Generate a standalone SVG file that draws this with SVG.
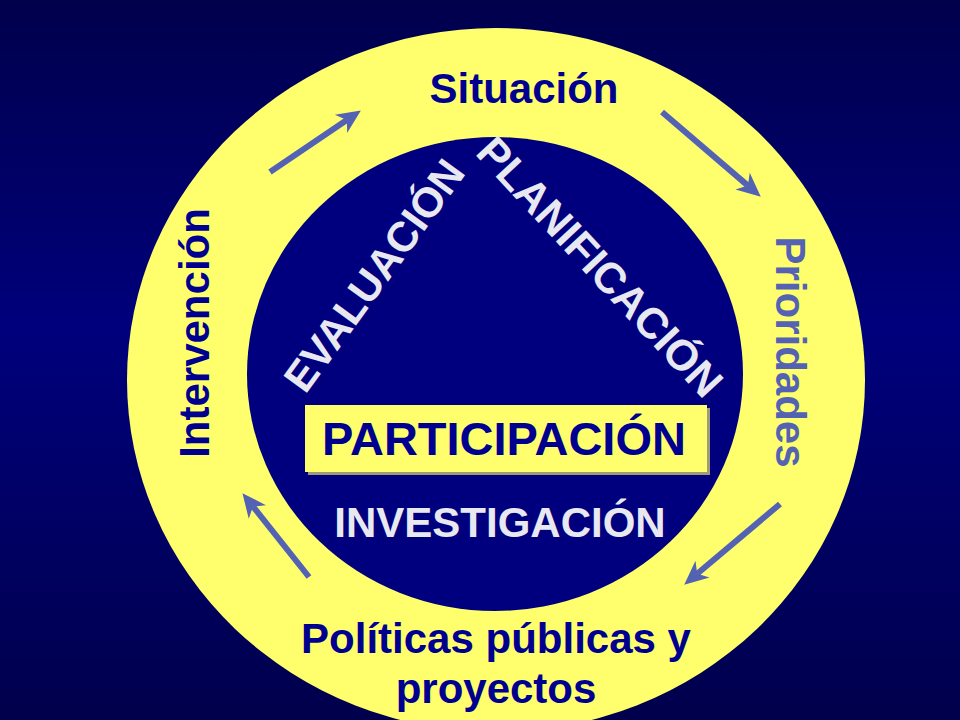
<svg xmlns="http://www.w3.org/2000/svg" width="960" height="720" viewBox="0 0 960 720">
  <defs>
    <linearGradient id="bg" x1="0" y1="0" x2="0" y2="1">
      <stop offset="0" stop-color="#00004c"/>
      <stop offset="0.46" stop-color="#00007c"/>
      <stop offset="1" stop-color="#00004c"/>
    </linearGradient>
    <marker id="head" markerUnits="userSpaceOnUse" markerWidth="30" markerHeight="30" refX="7" refY="0" viewBox="-2 -14 30 28" orient="auto">
      <path d="M0,-11 L24,0 L0,11 L7,0 Z" fill="#5462b4"/>
    </marker>
    <style>
      text { font-family: "Liberation Sans", Arial, sans-serif; font-weight: bold; }
      .navy { fill: #000090; }
      .white { fill: #e8e8f0; }
      .slate { fill: #5462b4; }
      .arrow { stroke: #5462b4; stroke-width: 6; fill: none; marker-end: url(#head); }
    </style>
  </defs>

  <rect x="0" y="0" width="960" height="720" fill="url(#bg)"/>

  <g id="ring">
    <ellipse cx="496" cy="380" rx="369" ry="352" fill="#ffff6e"/>
    <ellipse cx="495" cy="374" rx="248" ry="237" fill="#00007e"/>
  </g>

  <g id="connectors">
    <line class="arrow" x1="270" y1="172" x2="346.8" y2="120"/>
    <line class="arrow" x1="662" y1="112" x2="747.9" y2="185.6"/>
    <line class="arrow" x1="780" y1="504" x2="697.2" y2="573.7"/>
    <line class="arrow" x1="309" y1="577" x2="253" y2="506.5"/>
  </g>

  <g id="situacion">
    <text class="navy" x="524" y="103" font-size="42" text-anchor="middle">Situación</text>
  </g>

  <g id="prioridades">
    <text class="slate" transform="translate(776,352) rotate(90)" x="0" y="0" font-size="42" text-anchor="middle">Prioridades</text>
  </g>

  <g id="politicas">
    <text class="navy" x="496" y="653" font-size="42" text-anchor="middle">Políticas públicas y</text>
    <text class="navy" x="496" y="703" font-size="42" text-anchor="middle">proyectos</text>
  </g>

  <g id="intervencion">
    <text class="navy" transform="translate(209,333) rotate(-90)" x="0" y="0" font-size="42" text-anchor="middle">Intervención</text>
  </g>

  <g id="evaluacion">
    <text class="white" transform="translate(386,284) rotate(-54)" x="0" y="0" font-size="42" text-anchor="middle">EVALUACIÓN</text>
  </g>

  <g id="planificacion">
    <text class="white" transform="translate(589,277) rotate(47)" x="0" y="0" font-size="43" text-anchor="middle">PLANIFICACIÓN</text>
  </g>

  <g id="participacion">
    <rect x="308" y="408" width="402" height="67" fill="#a09a78"/>
    <rect x="305" y="405" width="402" height="67" fill="#ffff6e"/>
    <text class="navy" x="504" y="455" font-size="47" text-anchor="middle">PARTICIPACIÓN</text>
  </g>

  <g id="investigacion">
    <text class="white" x="500" y="537" font-size="42" text-anchor="middle">INVESTIGACIÓN</text>
  </g>
</svg>
